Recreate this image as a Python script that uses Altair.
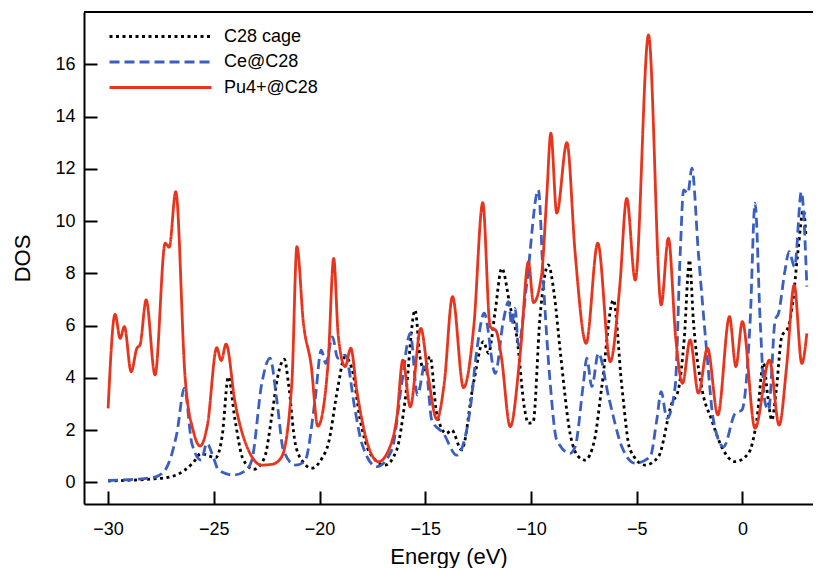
import altair as alt
import pandas as pd

series_names = ["C28 cage", "Ce@C28", "Pu4+@C28"]

c28_energy = [-30, -29, -28, -27, -26.4, -26.0, -25.6, -25.2, -24.9, -24.6, -24.31, -24.0, -23.6, -23.1,
              -22.6, -22.26, -21.98, -21.66, -21.47, -21.15, -20.8, -20.37, -19.9, -19.58, -19.14, -18.8,
              -18.45, -18.08, -17.61, -16.9, -16.35, -15.95, -15.48, -15.25, -15.05, -14.77, -14.46, -14.0,
              -13.75, -13.28, -12.72, -12.25, -12.01, -11.7, -11.38, -10.98, -10.67, -10.3, -10.12, -9.9,
              -9.57, -9.18, -8.9, -8.62, -8.15, -7.75, -7.44, -7.0, -6.65, -6.10, -5.70, -5.31, -4.60,
              -3.97, -3.34, -3.03, -2.75, -2.50, -2.32, -1.93, -1.45, -0.98, -0.34, 0.29, 0.68, 1.0, 1.2,
              1.39, 1.6, 1.86, 2.18, 2.4, 2.62, 2.89, 3.0]
c28_dos = [0.05, 0.08, 0.12, 0.22, 0.45, 0.73, 1.1, 1.0, 0.95, 1.8, 4.04, 2.4, 0.85, 0.5,
           0.95, 2.51, 4.04, 4.71, 3.79, 1.49, 0.8, 0.54, 0.9, 1.49, 3.6, 4.8,
           4.3, 2.4, 1.11, 0.66, 1.24, 3.15, 6.59, 4.81, 4.3, 4.81, 2.64, 1.87,
           2.0, 1.24, 3.79, 5.38, 4.94, 6.5, 8.19, 6.72, 5.57, 2.8, 2.26, 2.3,
           6.34, 8.32, 7.2, 5.06, 1.87, 0.98, 0.85, 1.6, 3.66, 6.98, 3.66, 1.24, 0.66,
           0.98, 3.02, 3.53, 5.5, 8.51, 6.21, 3.66, 2.38, 1.36, 0.79, 1.11, 2.38, 4.55, 3.3,
           2.38, 3.5, 5.57, 5.96, 7.0, 8.77, 10.42, 9.5]

ce_energy = [-30, -29, -28.2, -27.78, -27.3, -26.75, -26.39, -26.04, -25.60, -25.33, -25.0, -24.78,
             -24.07, -23.5, -23.20, -22.73, -22.34, -22.02, -21.71, -21.15, -20.7, -20.21, -19.92,
             -19.70, -19.39, -19.14, -18.79, -18.32, -18.0, -17.29, -16.58, -16.11, -15.71, -15.37,
             -15.0, -14.69, -14.14, -13.51, -12.88, -12.56, -12.21, -11.69, -11.30, -11.06, -10.91,
             -10.75, -10.59, -10.2, -9.65, -9.41, -9.09, -8.78, -8.15, -7.91, -7.52, -7.36, -7.12,
             -6.81, -6.33, -5.70, -5.07, -4.36, -4.05, -3.84, -3.57, -3.18, -2.94, -2.78, -2.58,
             -2.39, -2.08, -1.68, -1.37, -0.89, -0.34, -0.02, 0.37, 0.60, 0.84, 1.08, 1.24, 1.55,
             1.71, 2.02, 2.21, 2.47, 2.79, 3.05]
ce_dos = [0.07, 0.1, 0.15, 0.2, 0.47, 1.87, 3.60, 1.49, 0.85, 1.49, 0.9, 0.47,
          0.28, 0.45, 0.85, 3.79, 4.75, 3.15, 1.24, 0.66, 0.8, 3.16, 5.06,
          4.55, 5.57, 4.75, 4.87, 2.77, 1.49, 0.60, 1.24, 3.79, 5.70, 3.34,
          4.55, 2.38, 1.87, 1.04, 2.77, 5.06, 6.47, 4.17, 6.21, 6.91, 6.02,
          6.66, 5.25, 7.6, 11.19, 7.62, 3.79, 1.62, 1.11, 1.36, 3.79, 4.75, 3.66,
          4.94, 3.28, 1.36, 0.73, 0.98, 2.38, 3.47, 2.45, 3.66, 8.77, 11.19, 11.06,
          12.02, 8.77, 4.94, 2.38, 1.36, 2.64, 2.77, 6.21, 10.68, 6.21, 3.02, 2.77, 6.21,
          6.47, 8.13, 8.83, 8.25, 11.12, 7.49]

pu_energy = [-30.0, -29.67, -29.43, -29.23, -28.91, -28.64, -28.49, -28.2, -27.78, -27.3, -27.11,
             -26.8, -26.36, -25.95, -25.65, -25.3, -24.86, -24.65, -24.42, -23.99, -23.4, -22.73,
             -22.2, -21.79, -21.31, -21.07, -20.76, -20.4, -20.08, -19.6, -19.33, -19.11, -18.79,
             -18.52, -18.24, -17.7, -17.21, -16.7, -16.34, -16.06, -15.71, -15.21, -14.85, -14.45,
             -14.1, -13.71, -13.19, -12.7, -12.28, -11.93, -11.65, -11.4, -10.98, -10.5, -10.12,
             -9.88, -9.5, -9.25, -9.06, -8.78, -8.30, -7.91, -7.39, -6.84, -6.25, -5.8, -5.47,
             -5.07, -4.44, -3.84, -3.50, -3.15, -2.83, -2.47, -2.08, -1.65, -1.16, -0.61, -0.31,
             0.0, 0.60, 1.28, 1.74, 2.1, 2.45, 2.81, 3.05]
pu_dos = [2.83, 6.43, 5.51, 5.96, 4.23, 5.13, 5.26, 6.98, 4.11, 9.15, 9.0,
          11.12, 4.04, 1.9, 1.39, 2.2, 5.15, 4.66, 5.29, 3.03, 1.3, 0.66,
          0.7, 0.98, 3.79, 9.02, 6.08, 4.5, 2.15, 4.5, 8.57, 5.57, 4.43,
          5.13, 3.53, 1.4, 0.79, 1.3, 2.51, 4.68, 2.89, 5.89, 4.0, 2.41,
          3.8, 7.11, 3.62, 6.0, 10.70, 5.96, 5.8, 4.8, 2.13, 5.0, 8.44,
          6.88, 7.93, 11.0, 13.36, 10.30, 13.0, 8.77, 5.32, 9.15, 4.62, 7.5, 10.87,
          7.74, 17.12, 6.79, 9.34, 5.5, 3.79, 5.45, 3.41, 5.13, 2.58, 6.34, 4.43,
          6.15, 2.07, 4.68, 2.19, 4.5, 7.55, 4.55, 5.70]

x_ticks = [-30, -25, -20, -15, -10, -5, 0]
y_ticks = [0, 2, 4, 6, 8, 10, 12, 14, 16]
x_domain = [-31.14, 3.34]
y_domain = [-0.83, 18.0]

rows = []
for name, es, ds in [(series_names[0], c28_energy, c28_dos),
                     (series_names[1], ce_energy, ce_dos),
                     (series_names[2], pu_energy, pu_dos)]:
    for e, d in zip(es, ds):
        rows.append({"series": name, "energy": e, "dos": d})
df = pd.DataFrame(rows)

W, H = 729, 492
TICK = 13
FONT = "Liberation Sans"
x_scale = alt.Scale(domain=x_domain, nice=False, zero=False)
y_scale = alt.Scale(domain=y_domain, nice=False, zero=False)
color_scale = alt.Scale(domain=series_names, range=["#000000", "#3a5fc1", "#e8341c"])
dash_scale = alt.Scale(domain=series_names, range=[[3, 3.5], [10, 5], [1, 0]])

legend_spec = dict(orient="none", legendX=24, legendY=12, title=None, symbolType="stroke",
                   symbolSize=10404, symbolStrokeWidth=2.8, clipHeight=25, rowPadding=0.5,
                   labelFontSize=18, labelFont=FONT, labelColor="black", labelOffset=11,
                   padding=0)

# inward ticks: short dashes at the axis end of each grid line
x_axis = alt.Axis(orient="bottom", values=x_ticks, title="Energy (eV)", domain=True,
                  domainColor="black", domainWidth=2, ticks=False, tickSize=0,
                  grid=True, gridColor="black", gridWidth=2,
                  gridDash=[0, H - TICK, TICK, 3000], gridOpacity=1,
                  labelPadding=16, labelFontSize=18, labelFont=FONT, labelColor="black",
                  titleFont=FONT, titleFontSize=22, titleFontWeight="normal",
                  titleColor="black", titlePadding=8)
y_axis = alt.Axis(orient="left", values=y_ticks, title="DOS", domain=True,
                  domainColor="black", domainWidth=2, ticks=False, tickSize=0,
                  grid=True, gridColor="black", gridWidth=2,
                  gridDash=[TICK, 3000], gridOpacity=1,
                  labelPadding=9, labelFontSize=18, labelFont=FONT, labelColor="black",
                  titleFont=FONT, titleFontSize=22, titleFontWeight="normal",
                  titleColor="black", titlePadding=20)

lines = alt.Chart(df).mark_line(strokeWidth=2.8, interpolate="monotone").encode(
    x=alt.X("energy:Q", scale=x_scale, axis=x_axis),
    y=alt.Y("dos:Q", scale=y_scale, axis=y_axis),
    color=alt.Color("series:N", scale=color_scale, legend=alt.Legend(**legend_spec)),
    strokeDash=alt.StrokeDash("series:N", scale=dash_scale, legend=alt.Legend(**legend_spec)),
)

# top frame line at the upper end of the y domain
frame_top = alt.Chart(pd.DataFrame({"dos": [y_domain[1]]})).mark_rule(
    color="black", strokeWidth=2
).encode(y=alt.Y("dos:Q", scale=y_scale, axis=y_axis))

chart = alt.layer(lines, frame_top).properties(
    width=W, height=H,
    padding={"left": 76, "top": 4, "right": 0, "bottom": 64},
    autosize=alt.AutoSizeParams(type="none"),
).configure_view(stroke=None)

chart.save("out.html", embed_options={"renderer": "svg", "actions": False})
